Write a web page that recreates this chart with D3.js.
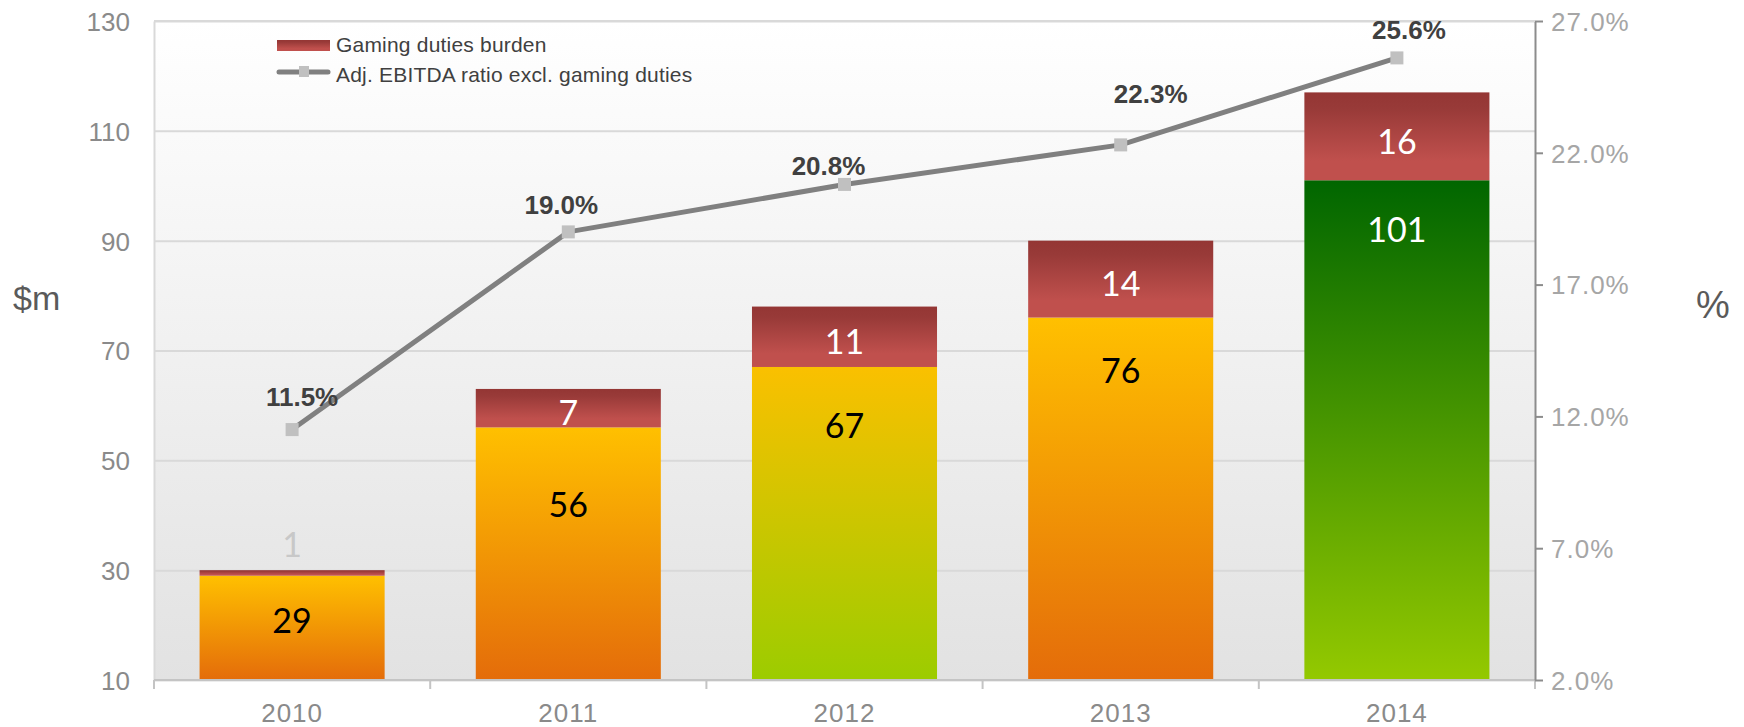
<!DOCTYPE html>
<html>
<head>
<meta charset="utf-8">
<script src="https://cdn.jsdelivr.net/npm/d3@7"></script>
<style>
  body { margin: 0; background: #ffffff; }
  svg { display: block; }
</style>
</head>
<body>
<svg id="chart" width="1744" height="727"></svg>
<script>
// ---- data ----
const years = ["2010", "2011", "2012", "2013", "2014"];
const adjEbitda = [29, 56, 67, 76, 101];          // $m, lower stack segment
const gamingDuties = [1, 7, 11, 14, 16];          // $m, upper stack segment
const ebitdaRatio = [11.5, 19.0, 20.8, 22.3, 25.6]; // %, right axis
const leftTicks = [10, 30, 50, 70, 90, 110, 130];
const rightTicks = [2, 7, 12, 17, 22, 27];
const seriesNames = ["Gaming duties burden", "Adj. EBITDA ratio excl. gaming duties"];

// ---- styling / layout ----
const plot = { left: 154, right: 1535, top: 21, bottom: 680 };
const fontAxis = "'Liberation Sans', Arial, sans-serif";
const fontBar = "Lato, 'Open Sans', sans-serif";
const baseGradientOf = { "2010": "gOrange", "2011": "gOrange", "2012": "gLime", "2013": "gOrange", "2014": "gGreen" };
const baseLabelColor = { "2010": "#000", "2011": "#000", "2012": "#000", "2013": "#000", "2014": "#fff" };
const baseLabelDrop = [45, 77, 59, 53, 50];                 // px below segment top
const ratioLabelShift = [[10, -33], [-7, -27], [-16, -19], [30, -51], [12, -28]]; // px from point

const svg = d3.select("#chart");
const defs = svg.append("defs");

function vGradient(id, stops) {
  const g = defs.append("linearGradient").attr("id", id)
    .attr("x1", 0).attr("y1", 0).attr("x2", 0).attr("y2", 1);
  stops.forEach(([o, c]) => g.append("stop").attr("offset", o).attr("stop-color", c));
}
vGradient("gBack", [[0, "#ffffff"], [1, "#e2e2e2"]]);
vGradient("gOrange", [[0, "#ffc000"], [1, "#e46c0a"]]);
vGradient("gLime", [[0, "#fac000"], [1, "#9ccc00"]]);
vGradient("gGreen", [[0, "#006600"], [1, "#94c900"]]);
vGradient("gRed", [[0, "#943634"], [0.18, "#983a38"], [0.78, "#c0504d"], [1, "#c0504d"]]);

// ---- scales ----
const x = d3.scaleBand().domain(years).range([plot.left, plot.right])
  .paddingInner(0.33).paddingOuter(0.165);
const y = d3.scaleLinear().domain([10, 130]).range([plot.bottom, plot.top]);
const yR = d3.scaleLinear().domain([2, 27]).range([plot.bottom, plot.top]);

// ---- plot background ----
svg.append("rect")
  .attr("x", plot.left).attr("y", plot.top)
  .attr("width", plot.right - plot.left).attr("height", plot.bottom - plot.top)
  .attr("fill", "url(#gBack)");

// gridlines
const grid = svg.append("g")
  .attr("transform", `translate(${plot.left},0)`)
  .call(d3.axisLeft(y).tickValues(leftTicks).tickSize(-(plot.right - plot.left)).tickFormat(""));
grid.select(".domain").remove();
grid.selectAll("line").attr("stroke", "#d9d9d9").attr("stroke-width", 2);

// ---- bars ----
const rows = years.map((yr, i) => ({ yr, i, base: adjEbitda[i], duty: gamingDuties[i] }));
const bars = svg.append("g");
bars.selectAll("rect.base").data(rows).join("rect")
  .attr("class", "base")
  .attr("x", d => x(d.yr)).attr("width", x.bandwidth())
  .attr("y", d => y(d.base))
  .attr("height", d => y(Math.max(0, y.domain()[0])) - y(d.base))
  .attr("fill", d => `url(#${baseGradientOf[d.yr]})`);
bars.selectAll("rect.duty").data(rows).join("rect")
  .attr("class", "duty")
  .attr("x", d => x(d.yr)).attr("width", x.bandwidth())
  .attr("y", d => y(d.base + d.duty))
  .attr("height", d => y(d.base) - y(d.base + d.duty))
  .attr("fill", "url(#gRed)");

// ---- axes ----
// left axis
const axL = svg.append("g")
  .attr("transform", `translate(${plot.left},0)`)
  .call(d3.axisLeft(y).tickValues(leftTicks).tickSize(0).tickPadding(24));
axL.select(".domain").attr("stroke", "#d9d9d9").attr("stroke-width", 2);
axL.selectAll("text").attr("font-family", fontAxis).attr("font-size", 26)
  .attr("fill", "#8a8a8a").attr("dy", "0.36em");

// bottom axis line and category boundary ticks
svg.append("line")
  .attr("x1", plot.left).attr("x2", plot.right)
  .attr("y1", plot.bottom).attr("y2", plot.bottom)
  .attr("stroke", "#c4c4c4").attr("stroke-width", 2);
const gap = (x.step() - x.bandwidth()) / 2;
const bounds = years.map(yr => x(yr) - gap).concat([plot.right]);
svg.append("g").selectAll("line").data(bounds).join("line")
  .attr("x1", d => d).attr("x2", d => d)
  .attr("y1", plot.bottom).attr("y2", plot.bottom + 9)
  .attr("stroke", "#c4c4c4").attr("stroke-width", 2);
const axB = svg.append("g")
  .attr("transform", `translate(0,${plot.bottom})`)
  .call(d3.axisBottom(x).tickSize(0).tickPadding(23.5));
axB.select(".domain").remove();
axB.selectAll("text").attr("font-family", fontAxis).attr("font-size", 26)
  .attr("letter-spacing", "1px").attr("fill", "#8a8a8a");

// right axis
const axR = svg.append("g")
  .attr("transform", `translate(${plot.right},0)`)
  .call(d3.axisRight(yR).tickValues(rightTicks).tickSize(8).tickSizeOuter(0).tickPadding(8)
    .tickFormat(d => d.toFixed(1) + "%"));
axR.select(".domain").attr("stroke", "#8c8c8c").attr("stroke-width", 2);
axR.selectAll("line").attr("stroke", "#8c8c8c").attr("stroke-width", 2);
axR.selectAll("text").attr("font-family", fontAxis).attr("font-size", 26)
  .attr("fill", "#a6a6a6").attr("letter-spacing", "1px").attr("dy", "0.36em");

// top frame
svg.append("line")
  .attr("x1", plot.left).attr("x2", plot.right)
  .attr("y1", plot.top).attr("y2", plot.top)
  .attr("stroke", "#d9d9d9").attr("stroke-width", 2);

// axis titles
svg.append("text").attr("x", 13).attr("y", 310)
  .attr("font-family", fontAxis).attr("font-size", 34).attr("fill", "#5a5a5a").text("$m");
svg.append("text").attr("x", 1713).attr("y", 318).attr("text-anchor", "middle")
  .attr("font-family", fontAxis).attr("font-size", 38).attr("fill", "#5a5a5a").text("%");

// ---- bar value labels ----
const barFs = 34;
bars.selectAll("text.baseLbl").data(rows).join("text")
  .attr("class", "baseLbl")
  .attr("x", d => x(d.yr) + x.bandwidth() / 2)
  .attr("y", d => y(d.base) + baseLabelDrop[d.i] + barFs * 0.36)
  .attr("text-anchor", "middle")
  .attr("font-family", fontBar).attr("font-size", barFs)
  .attr("fill", d => baseLabelColor[d.yr])
  .text(d => d.base);
bars.selectAll("text.dutyLbl").data(rows).join("text")
  .attr("class", "dutyLbl")
  .attr("x", d => x(d.yr) + x.bandwidth() / 2)
  .attr("y", d => {
    const top = y(d.base + d.duty), bot = y(d.base);
    // segments too thin for a label get it above the bar
    const cy = (bot - top) < 30 ? top - 25 : (top + bot) / 2 + 5;
    return cy + barFs * 0.36;
  })
  .attr("text-anchor", "middle")
  .attr("font-family", fontBar).attr("font-size", barFs)
  .attr("fill", d => (y(d.base) - y(d.base + d.duty)) < 30 ? "#c8c8c8" : "#ffffff")
  .text(d => d.duty);

// ---- ratio line ----
const pts = years.map((yr, i) => ({ yr, i, v: ebitdaRatio[i] }));
const cx = d => x(d.yr) + x.bandwidth() / 2;
svg.append("path").datum(pts)
  .attr("d", d3.line().x(cx).y(d => yR(d.v)))
  .attr("fill", "none").attr("stroke", "#808080").attr("stroke-width", 5)
  .attr("stroke-linejoin", "round").attr("stroke-linecap", "round");
svg.append("g").selectAll("rect").data(pts).join("rect")
  .attr("x", d => cx(d) - 6.5).attr("y", d => yR(d.v) - 6.5)
  .attr("width", 13).attr("height", 13).attr("fill", "#c0c0c0");
svg.append("g").selectAll("text").data(pts).join("text")
  .attr("x", d => cx(d) + ratioLabelShift[d.i][0])
  .attr("y", d => yR(d.v) + ratioLabelShift[d.i][1] + 26 * 0.36)
  .attr("text-anchor", "middle")
  .attr("font-family", fontAxis).attr("font-size", 26).attr("font-weight", "bold")
  .attr("fill", "#404040")
  .text(d => d.v.toFixed(1) + "%");

// ---- legend ----
const lg = svg.append("g").attr("font-family", fontAxis).attr("font-size", 21)
  .attr("letter-spacing", "0.2px").attr("fill", "#404040");
lg.append("rect").attr("x", 277).attr("y", 40).attr("width", 53).attr("height", 11).attr("fill", "url(#gRed)");
lg.append("text").attr("x", 336).attr("y", 52).text(seriesNames[0]);
lg.append("line").attr("x1", 279).attr("x2", 328).attr("y1", 72).attr("y2", 72)
  .attr("stroke", "#808080").attr("stroke-width", 5).attr("stroke-linecap", "round");
lg.append("rect").attr("x", 299).attr("y", 66).attr("width", 10).attr("height", 11).attr("fill", "#c0c0c0");
lg.append("text").attr("x", 336).attr("y", 82).text(seriesNames[1]);
</script>
</body>
</html>
